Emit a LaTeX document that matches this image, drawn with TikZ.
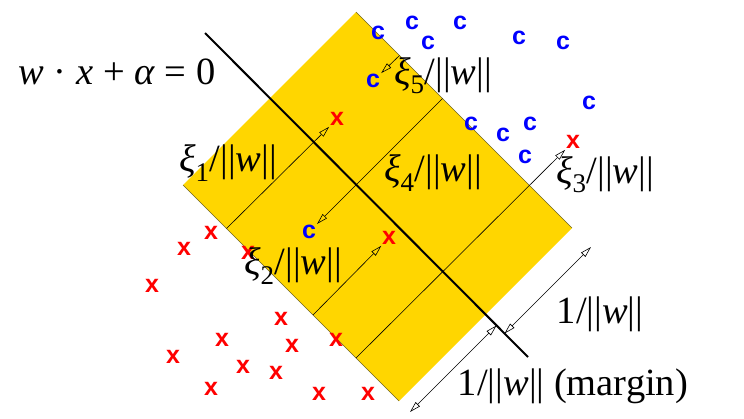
\documentclass[tikz,border=0pt]{standalone}
\usepackage{fontspec}
\setmainfont{Liberation Serif}
\newfontfamily\ptfont{Liberation Sans}
\usetikzlibrary{arrows.meta}
\definecolor{bandyellow}{RGB}{255,214,0}
\definecolor{edgegray}{RGB}{110,100,40}
\newcommand\nrmw{||\textit{w}||}
\newcommand\slk[1]{\textit{ξ}\textsubscript{#1}/\nrmw}
\tikzset{
  xpt/.style={inner sep=1pt, text=red, font=\ptfont\bfseries\fontsize{25}{25}\selectfont},
  cpt/.style={inner sep=1pt, text=blue, font=\ptfont\bfseries\fontsize{25}{25}\selectfont},
  lbl/.style={inner sep=0pt, font=\fontsize{38.5}{42}\selectfont},
  slack/.style={line width=0.6pt, -{Triangle[open, length=11pt, width=6pt]}},
  mrg/.style={line width=0.6pt, {Triangle[open, length=11pt, width=6pt]}-{Triangle[open, length=11pt, width=6pt]}}
}
\begin{document}
\begin{tikzpicture}[x=1pt, y=-1pt]
\useasboundingbox (0,0) rectangle (744,418);
% band
\fill[bandyellow] (356,12) -- (572,228) -- (399,401) -- (183,185) -- cycle;
\draw[edgegray, line width=0.5pt] (356,12) -- (572,228);
\draw[edgegray, line width=0.5pt] (183,185) -- (399,401);
% hyperplane
\coordinate (h0) at (205,33);
\coordinate (h1) at (528,357);
\draw[line width=2pt] (h0) -- (h1);
\node[lbl, anchor=base] (eq) at (117,84) {\textit{w} · \textit{x} + \textit{α} = 0};
% points
\node[cpt] (c1) at (378,33) {c};
\node[cpt] (c2) at (412,23) {c};
\node[cpt] (c3) at (428,43) {c};
\node[cpt] (c4) at (460,23) {c};
\node[cpt] (c5) at (519,38) {c};
\node[cpt] (c6) at (563,43) {c};
\node[cpt] (c7) at (373,81) {c};
\node[cpt] (c8) at (589,103) {c};
\node[cpt] (c9) at (471,124) {c};
\node[cpt] (c10) at (503,135) {c};
\node[cpt] (c11) at (530,124) {c};
\node[cpt] (c12) at (525,157) {c};
\node[cpt] (c13) at (309,232) {c};
\node[xpt] (x1) at (337,119) {x};
\node[xpt] (x2) at (573,142) {x};
\node[xpt] (x3) at (389,238) {x};
\node[xpt] (x4) at (211,233) {x};
\node[xpt] (x5) at (184,249) {x};
\node[xpt] (x6) at (248,253) {x};
\node[xpt] (x7) at (152,286) {x};
\node[xpt] (x8) at (281,319) {x};
\node[xpt] (x9) at (222,340) {x};
\node[xpt] (x10) at (292,346) {x};
\node[xpt] (x11) at (336,340) {x};
\node[xpt] (x12) at (173,357) {x};
\node[xpt] (x13) at (243,367) {x};
\node[xpt] (x14) at (276,373) {x};
\node[xpt] (x15) at (211,389) {x};
\node[xpt] (x16) at (319,394) {x};
\node[xpt] (x17) at (368,394) {x};
% slack arrows
\coordinate (s1) at (226.5,228.5);
\coordinate (s2) at (313,315);
\coordinate (s3) at (356,358);
\coordinate (s4) at (442.5,98.5);
\coordinate (s5) at (399.5,55.5);
\draw[slack] (s1) -- (x1);
\draw[slack] (s2) -- (x3);
\draw[slack] (s3) -- (x2);
\draw[slack] (s4) -- (c13);
\draw[slack] (s5) -- (c7);
\node[lbl] (l1) at (228,163) {\slk{1}};
\node[lbl] (l2) at (293,266) {\slk{2}};
\node[lbl] (l3) at (605,175) {\slk{3}};
\node[lbl] (l4) at (433,173) {\slk{4}};
\node[lbl] (l5) at (443,76) {\slk{5}};
% margin arrows
\coordinate (m0) at (504.5,333.5);
\coordinate (m1) at (591,247);
\coordinate (m2) at (410,412);
\coordinate (m3) at (496.5,325.5);
\draw[mrg] (m0) -- (m1);
\draw[mrg] (m2) -- (m3);
\node[lbl] (l6) at (600,314) {1/\nrmw};
\node[lbl] (l7) at (573,386) {1/\nrmw{} (margin)};
\end{tikzpicture}
\end{document}
